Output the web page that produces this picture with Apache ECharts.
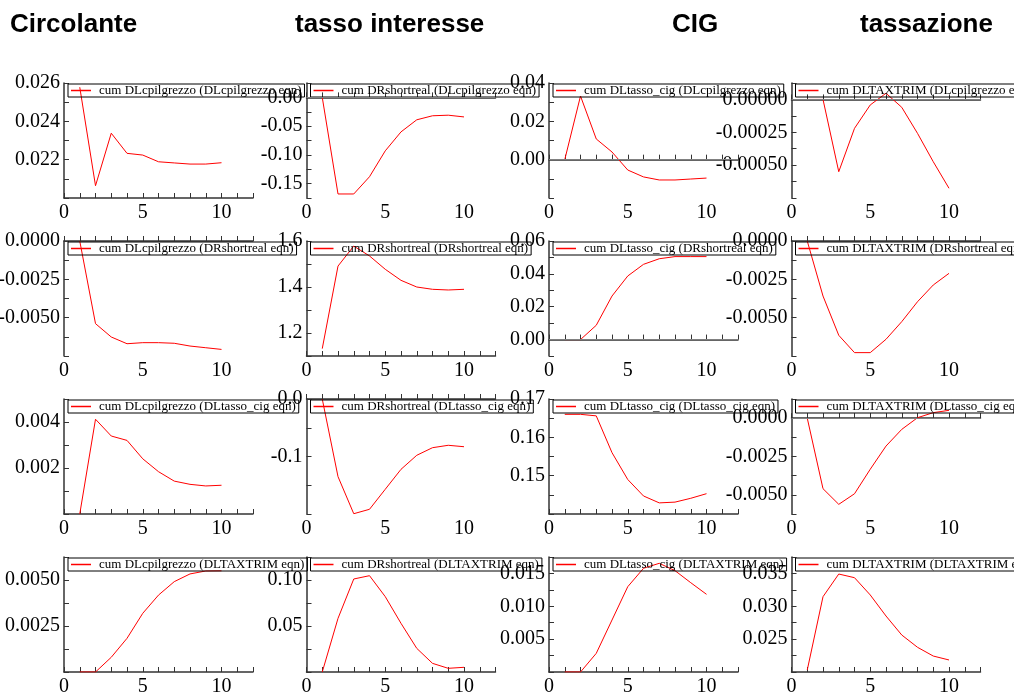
<!DOCTYPE html>
<html>
<head>
<meta charset="utf-8">
<title>cum IRF</title>
<script src="https://cdn.jsdelivr.net/npm/echarts@6/dist/echarts.min.js"></script>
<style>
  html, body { margin: 0; padding: 0; background: #fff; }
  #chart { width: 1014px; height: 698px; }
</style>
</head>
<body>
<div id="chart"></div>
<script>
// orizzonte
const horizons = [1, 2, 3, 4, 5, 6, 7, 8, 9, 10]
const xTickLabels = [0, 5, 10]

const columnTitles = ['Circolante', 'tasso interesse', 'CIG', 'tassazione']
const responses = ['DLcpilgrezzo', 'DRshortreal', 'DLtasso_cig', 'DLTAXTRIM']
const shocks = ['DLcpilgrezzo', 'DRshortreal', 'DLtasso_cig', 'DLTAXTRIM']

// righe = shock (eqn), colonne = risposta
const cpi_cpi = [0.02578, 0.02064, 0.02338, 0.02233, 0.02224, 0.02189, 0.02183, 0.02177, 0.02177, 0.02184]
const rate_cpi = [0.000, -0.168, -0.168, -0.138, -0.093, -0.060, -0.039, -0.032, -0.031, -0.034]
const cig_cpi = [0.000, 0.0332, 0.0108, 0.0040, -0.0054, -0.0090, -0.0106, -0.0106, -0.0101, -0.0096]
const tax_cpi = [0.0, 0.0, -0.00055, -0.00022, -0.000042, 0.000047, -0.000060, -0.000258, -0.000474, -0.000676]

const cpi_rate = [0.0, -0.00539, -0.00626, -0.0067, -0.00663, -0.00663, -0.00667, -0.00685, -0.00696, -0.00707]
const rate_rate = [1.132, 1.491, 1.578, 1.535, 1.477, 1.429, 1.400, 1.390, 1.387, 1.390]
const cig_rate = [0.0, 0.0, 0.0087, 0.0265, 0.0387, 0.0458, 0.0492, 0.0505, 0.0505, 0.0505]
const tax_rate = [0.0, -0.00359, -0.00615, -0.00728, -0.00728, -0.00641, -0.00526, -0.00396, -0.00287, -0.00211]

const cpi_cig = [0.0, 0.00412, 0.00339, 0.0032, 0.0024, 0.00184, 0.00143, 0.00129, 0.00122, 0.00125]
const rate_cig = [0.0, -0.135, -0.1995, -0.1918, -0.157, -0.1223, -0.0979, -0.0847, -0.0805, -0.083]
const cig_cig = [0.166, 0.166, 0.1656, 0.156, 0.149, 0.1447, 0.1429, 0.1431, 0.1441, 0.1453]
const tax_cig = [0.0, -0.0046, -0.00562, -0.00493, -0.00333, -0.00182, -0.00073, 0.00003, 0.00036, 0.00051]

const cpi_tax = [0.0, 0.0, 0.0008, 0.00183, 0.00319, 0.00418, 0.00491, 0.00533, 0.00549, 0.0055]
const rate_tax = [0.0, 0.0583, 0.1011, 0.1047, 0.0819, 0.0529, 0.0257, 0.0094, 0.004, 0.0051]
const cig_tax = [0.0, 0.0, 0.00284, 0.00791, 0.01298, 0.01578, 0.01654, 0.01542, 0.01359, 0.01182]
const tax_tax = [0.0203, 0.03146, 0.03491, 0.03435, 0.03172, 0.02852, 0.02563, 0.02376, 0.02243, 0.02183]

const panelValues = [
  [cpi_cpi, rate_cpi, cig_cpi, tax_cpi],
  [cpi_rate, rate_rate, cig_rate, tax_rate],
  [cpi_cig, rate_cig, cig_cig, tax_cig],
  [cpi_tax, rate_tax, cig_tax, tax_tax]
]

// etichette asse y per pannello
const yTickLabels = [
  [['0.022', '0.024', '0.026'], ['-0.15', '-0.10', '-0.05', '0.00'], ['0.00', '0.02', '0.04'], ['-0.00050', '-0.00025', '0.00000']],
  [['-0.0050', '-0.0025', '0.0000'], ['1.2', '1.4', '1.6'], ['0.00', '0.02', '0.04', '0.06'], ['-0.0050', '-0.0025', '0.0000']],
  [['0.002', '0.004'], ['-0.1', '0.0'], ['0.15', '0.16', '0.17'], ['-0.0050', '-0.0025', '0.0000']],
  [['0.0025', '0.0050'], ['0.05', '0.10'], ['0.005', '0.010', '0.015'], ['0.025', '0.030', '0.035']]
]
// [min, max, passo tacche]
const yRanges = [
  [[0.020, 0.026, 0.001], [-0.175, 0.025, 0.025], [-0.02, 0.04, 0.01], [-0.00075, 0.000125, 0.000125]],
  [[-0.0075, 0, 0.00125], [1.1, 1.6, 0.1], [-0.01, 0.06, 0.01], [-0.0075, 0, 0.00125]],
  [[0, 0.005, 0.001], [-0.2, 0, 0.05], [0.14, 0.17, 0.005], [-0.00625, 0.00125, 0.00125]],
  [[0, 0.00625, 0.00125], [0, 0.125, 0.025], [0, 0.0175, 0.0025], [0.02, 0.0375, 0.0025]]
]

const chart = echarts.init(document.getElementById('chart'), null, { renderer: 'canvas' })

const serif = 'Liberation Serif, Times New Roman, serif'
const axisColor = '#333'
const grids = []
const xAxes = []
const yAxes = []
const series = []
const legends = []

for (let r = 0; r < 4; r++) {
  for (let c = 0; c < 4; c++) {
    const idx = r * 4 + c
    const left = 64 + 242.5 * c
    const top = 83 + 158 * r
    const [min, max, step] = yRanges[r][c]
    const labels = yTickLabels[r][c]
    const name = 'cum ' + responses[c] + ' (' + shocks[r] + ' eqn)'

    // outerBoundsMode none: le etichette possono uscire dal bordo come nell'originale
    grids.push({ left: left, top: top, width: 189, height: 115, outerBoundsMode: 'none', containLabel: false })

    xAxes.push({
      type: 'value',
      gridIndex: idx,
      min: 0,
      max: 12,
      interval: 1,
      axisLine: { lineStyle: { color: axisColor, width: 1.5 } },
      axisTick: { inside: true, length: 5, lineStyle: { color: axisColor, width: 1 } },
      splitLine: { show: false },
      axisLabel: {
        customValues: xTickLabels,
        color: '#000',
        fontFamily: serif,
        fontSize: 20,
        margin: 5
      }
    })

    yAxes.push({
      type: 'value',
      gridIndex: idx,
      min: min,
      max: max,
      interval: step,
      axisLine: { show: true, lineStyle: { color: axisColor, width: 1.5 } },
      axisTick: { show: true, inside: true, length: 5, lineStyle: { color: axisColor, width: 1 } },
      splitLine: { show: false },
      axisLabel: {
        customValues: labels.map(Number),
        formatter: v => {
          const hit = labels.find(l => Math.abs(Number(l) - v) < step / 10)
          return hit === undefined ? '' : hit
        },
        color: '#000',
        fontFamily: serif,
        fontSize: 20,
        margin: 4
      }
    })

    const s = {
      name: name,
      type: 'line',
      xAxisIndex: idx,
      yAxisIndex: idx,
      showSymbol: false,
      lineStyle: { color: '#ff0000', width: 1 },
      itemStyle: { color: '#ff0000' },
      data: horizons.map((h, i) => [h, panelValues[r][c][i]])
    }
    // linea dello zero solo se lo zero cade dentro il pannello
    if (min < 0 && max > 0) {
      s.markLine = {
        silent: true,
        symbol: ['none', 'none'],
        label: { show: false },
        lineStyle: { color: '#808080', type: 'solid', width: 1 },
        data: [{ yAxis: 0 }]
      }
    }
    series.push(s)

    legends.push({
      data: [name],
      left: left + 4,
      top: top + 1,
      selectedMode: false,
      icon: 'rect',
      itemWidth: 20,
      itemHeight: 1.5,
      padding: [0, 3, 0, 3],
      borderColor: '#000',
      borderWidth: 1,
      textStyle: { color: '#000', fontFamily: serif, fontSize: 13, width: 196, overflow: 'none', padding: [0, 0, 0, 3] }
    })
  }
}

const titleLeft = [10, 295, 672, 860]
const titles = columnTitles.map((t, i) => ({
  text: t,
  left: titleLeft[i],
  top: 12,
  padding: 0,
  textStyle: { fontFamily: 'Liberation Sans, Arial, sans-serif', fontWeight: 'bold', fontSize: 26, color: '#000' }
}))

chart.setOption({
  backgroundColor: '#fff',
  animation: false,
  title: titles,
  legend: legends,
  grid: grids,
  xAxis: xAxes,
  yAxis: yAxes,
  series: series
})
</script>
</body>
</html>
